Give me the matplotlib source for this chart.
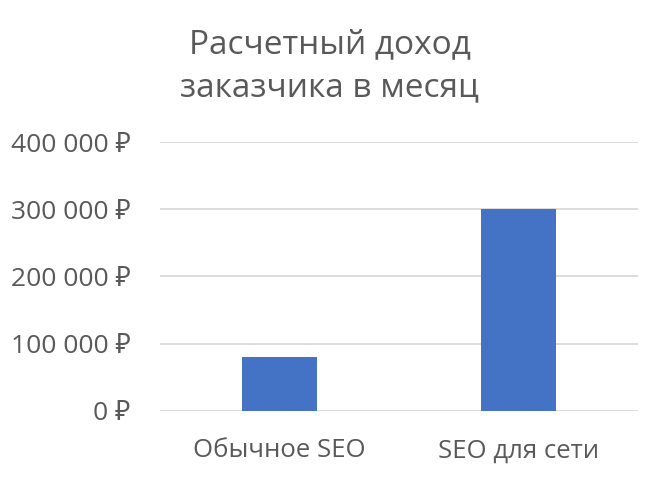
import matplotlib
matplotlib.use('Agg')
import matplotlib.pyplot as plt
from matplotlib.ticker import FuncFormatter

categories = ['Обычное SEO', 'SEO для сети']
income = [80000, 300000]
yticks = [0, 100000, 200000, 300000, 400000]

plt.rcParams['font.family'] = ['Open Sans', 'Noto Sans', 'DejaVu Sans']

fig = plt.figure(figsize=(6.59, 4.78), dpi=100, facecolor='white')
ax = fig.add_axes([160 / 659, 1 - 410.7 / 478, 478 / 659, (410.7 - 142) / 478])

ax.bar(range(len(categories)), income, width=0.314, color='#4472C4', zorder=3)

ax.set_xlim(-0.5, len(categories) - 0.5)
ax.set_ylim(0, 400000)
ax.set_yticks(yticks)
ax.yaxis.set_major_formatter(FuncFormatter(
    lambda v, p: ('{:,.0f}'.format(v).replace(',', ' ')) + ' ₽'))
ax.set_xticks(range(len(categories)))
ax.set_xticklabels(categories)

ax.grid(axis='y', color='#D9D9D9', linewidth=1.3, zorder=0)
for s in ax.spines.values():
    s.set_visible(False)
ax.tick_params(axis='y', length=0, labelsize=19, colors='#595959', pad=21)
ax.tick_params(axis='x', length=0, labelsize=18.5, colors='#595959', pad=20)

fig.text(0.5, 1 - 66 / 478, 'Расчетный доход\nзаказчика в месяц', ha='center',
         va='center', fontsize=24, color='#595959', linespacing=1.42)

fig.savefig('out.png', dpi=100, facecolor='white')
